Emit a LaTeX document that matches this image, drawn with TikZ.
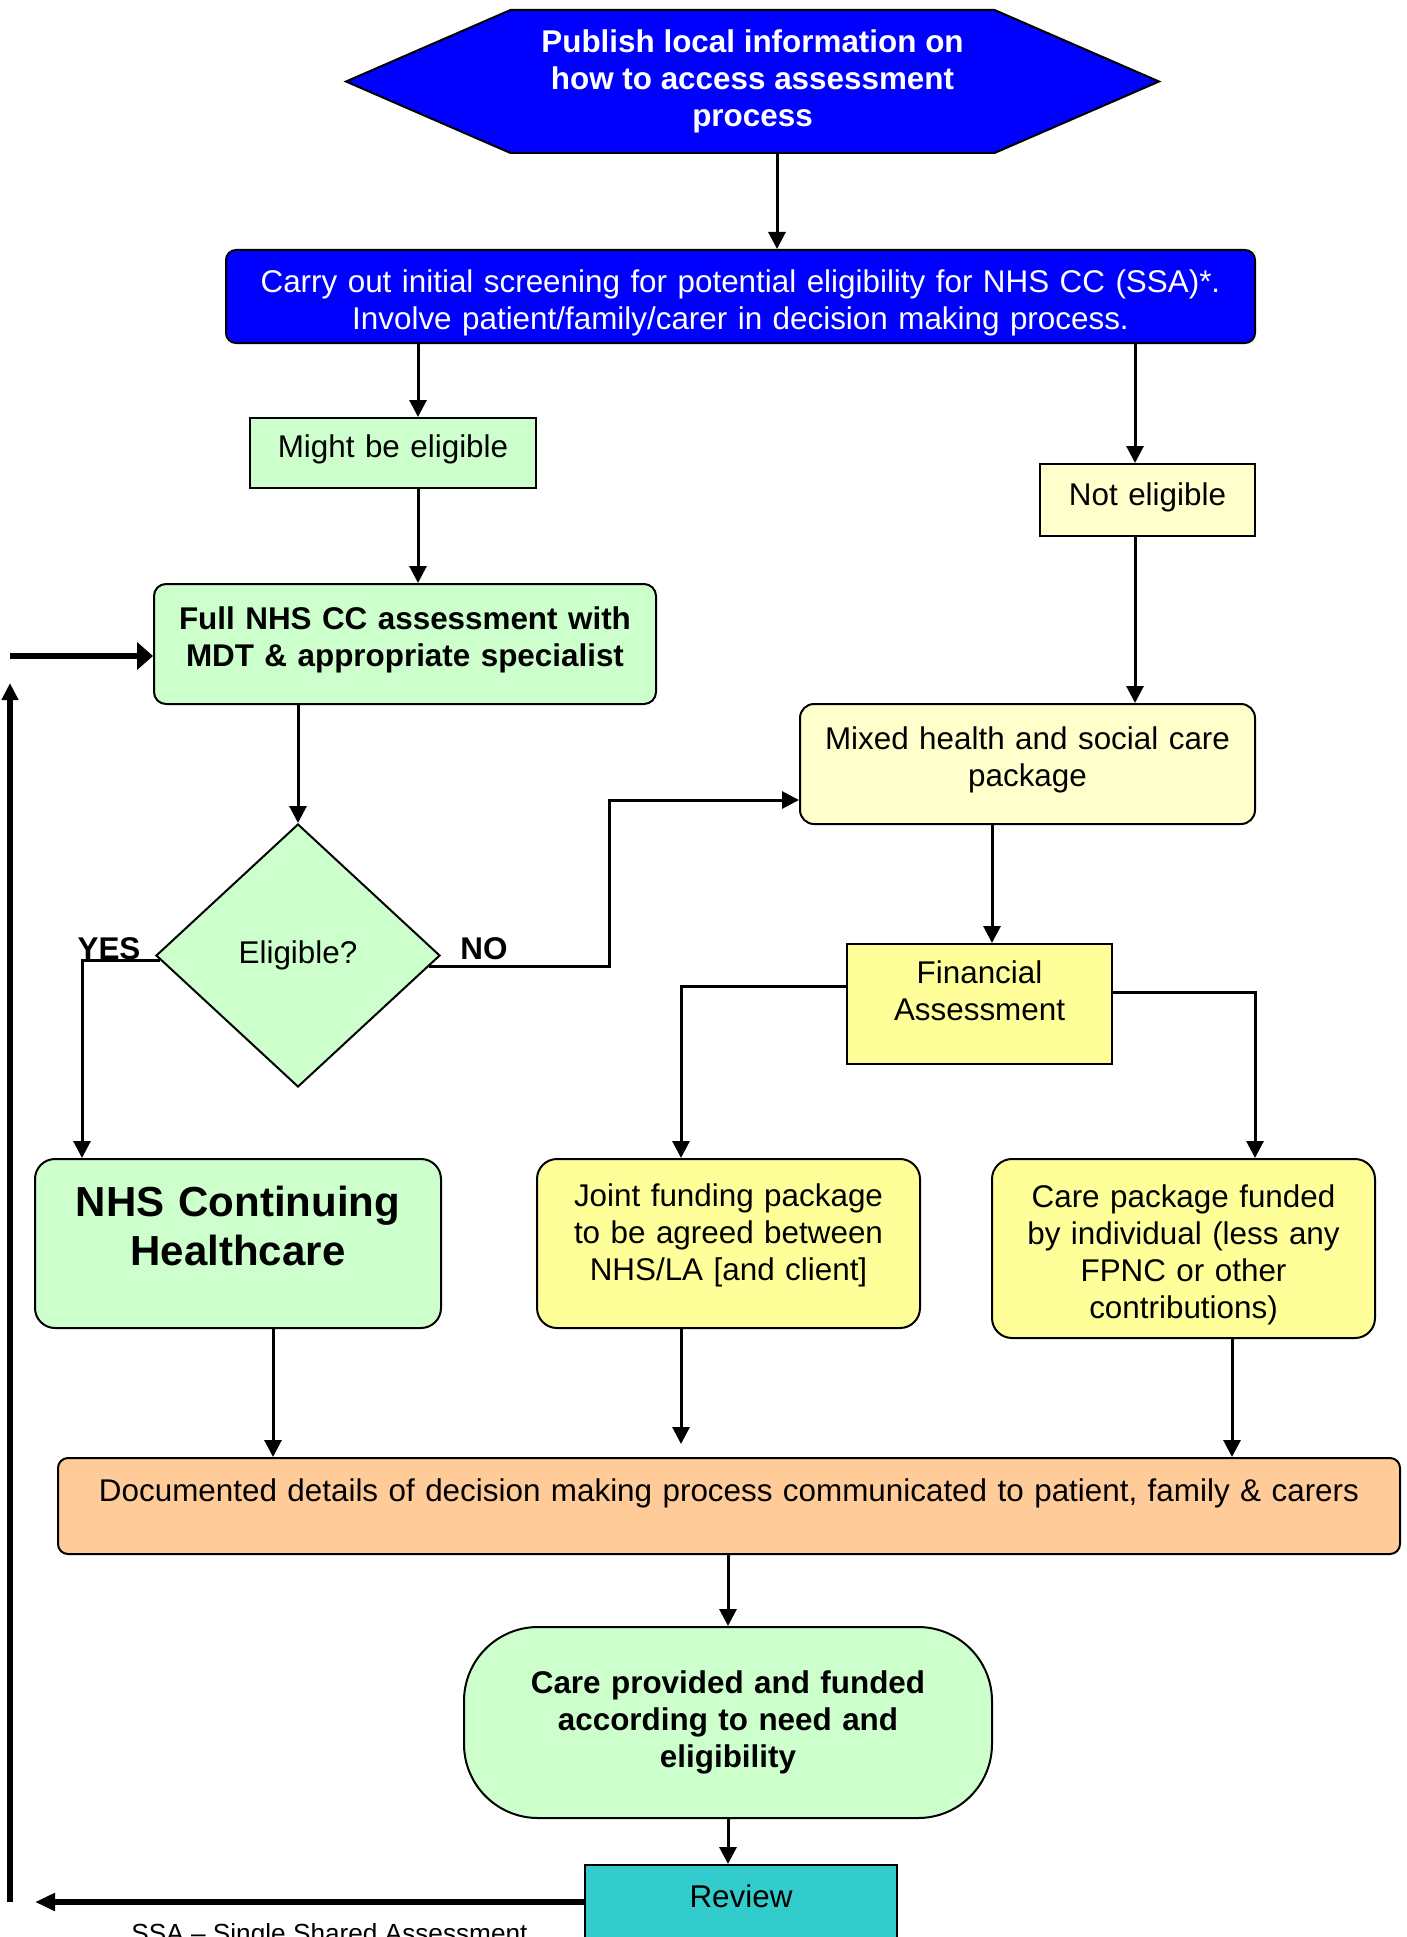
\documentclass[tikz,border=0pt]{standalone}
\usepackage{fontspec}
\setmainfont{Liberation Sans}
\usetikzlibrary{shapes.geometric,shapes.symbols,arrows.meta}

\definecolor{boxblue}{HTML}{0000FF}
\definecolor{palegreen}{HTML}{CCFFCC}
\definecolor{paleyellow}{HTML}{FFFFCC}
\definecolor{lightyellow}{HTML}{FFFF99}
\definecolor{peach}{HTML}{FFCC99}
\definecolor{reviewteal}{HTML}{33CCCC}

\newcommand\txt{\fontsize{15.7}{18.5}\selectfont}
\newcommand\bigtxt{\fontsize{21}{24.5}\selectfont}
\newcommand\smalltxt{\fontsize{13.1}{15.3}\selectfont}
% Leerraum unter der letzten bzw. ueber der ersten Zeile
\newcommand\padb[1]{\vrule width 0pt height 0pt depth \dimexpr #1+0.21em\relax}
\newcommand\padt[1]{\leavevmode\vrule width 0pt height \dimexpr #1+0.73em\relax depth 0pt}

\begin{document}
\begin{tikzpicture}[x=0.5pt, y=-0.5pt, >={Triangle[length=8.5pt,width=8.5pt]},
    box/.style={draw, line width=1pt, align=center, inner xsep=2pt, inner ysep=0pt, font=\txt},
    conn/.style={->, line width=1.5pt},
    backline/.style={line width=2.8pt}]

            % Rahmen (1 Einheit = 1 Pixel der Vorlage)
            \useasboundingbox (0,0) rectangle (1407,1937);

            % Kopf: Information veroeffentlichen
            \node[signal, signal to=west and east, signal pointer angle=47, draw, line width=1pt,
                fill=boxblue, text=white, font=\txt\bfseries, align=center,
                minimum width=406.5pt, minimum height=71.5pt, inner sep=0pt] (hex) at (752.5,81.5)
                {Publish local information on\\how to access assessment\\process};

            % Screening
            \node[box, fill=boxblue, text=white, rounded corners=5pt, minimum width=514.5pt,
                minimum height=46.5pt, text width=510pt] (screen) at (740.5,296.5)
                {\padt{6pt}Carry out initial screening for potential eligibility for NHS CC (SSA)*.\\Involve patient/family/carer in decision making process.};

            % Zwei Ergebnisse des Screenings
            \node[box, fill=palegreen, minimum width=143pt, minimum height=35pt, text width=139pt] (might) at (393,453)
                {Might be eligible\padb{3.7pt}};
            \node[box, fill=paleyellow, minimum width=107.5pt, minimum height=36pt, text width=103.5pt] (notel) at (1147.5,500)
                {Not eligible\padb{2.5pt}};

            % Volle Begutachtung
            \node[box, fill=palegreen, rounded corners=6pt, minimum width=251pt, minimum height=60pt,
                text width=247pt, font=\txt\bfseries] (full) at (405,644)
                {Full NHS CC assessment with\\MDT \& appropriate specialist\padb{3.7pt}};

            % Gemischtes Paket
            \node[box, fill=paleyellow, rounded corners=7pt, minimum width=227.5pt, minimum height=60pt,
                text width=223.5pt] (mixed) at (1027.5,764)
                {Mixed health and social care\\package\padb{4.3pt}};

            % Entscheidung
            \node[diamond, draw, line width=1pt, fill=palegreen, font=\txt, minimum width=142pt,
                minimum height=131.5pt, inner sep=0pt] (elig) at (298,955.5) {Eligible?};
            \node[font=\txt\bfseries] (yes) at (109,949) {YES};
            \node[font=\txt\bfseries] (no) at (484,949) {NO};

            % Finanzielle Pruefung
            \node[box, fill=lightyellow, minimum width=132.5pt, minimum height=60pt, text width=128.5pt] (fin) at (979.5,1004)
                {Financial\\Assessment\padb{10.5pt}};

            % Drei Ergebnisse
            \node[box, fill=palegreen, rounded corners=10pt, minimum width=203pt, minimum height=84.5pt,
                text width=199pt, font=\bigtxt\bfseries] (nhscc) at (238,1243.5)
                {NHS Continuing\\Healthcare\padb{13pt}};
            \node[box, fill=lightyellow, rounded corners=10pt, minimum width=191.5pt, minimum height=84.5pt,
                text width=187.5pt] (joint) at (728.5,1243.5)
                {Joint funding package\\to be agreed between\\NHS/LA [and client]\padb{8pt}};
            \node[box, fill=lightyellow, rounded corners=10pt, minimum width=191.5pt, minimum height=89.5pt,
                text width=187.5pt] (carepkg) at (1183.5,1248.5)
                {\padt{6.2pt}Care package funded\\by individual (less any\\FPNC or other\\contributions)};

            % Dokumentation, Versorgung, Review
            \node[box, fill=peach, rounded corners=5pt, minimum width=671pt, minimum height=48pt,
                text width=667pt] (doc) at (729,1506)
                {Documented details of decision making process communicated to patient, family \& carers\padb{12.4pt}};
            \node[box, fill=palegreen, rounded corners=37pt, minimum width=264pt, minimum height=95.5pt,
                text width=240pt, font=\txt\bfseries] (given) at (728,1722.5)
                {Care provided and funded\\according to need and\\eligibility};
            \node[box, fill=reviewteal, minimum width=156pt, minimum height=80pt, text width=152pt] (review) at (741,1945)
                {Review\padb{46pt}};

            % Fussnote (unten abgeschnitten)
            \node[font=\smalltxt, anchor=base west, inner sep=0pt] (ssa) at (131,1942) {SSA – Single Shared Assessment};

            % Hilfspunkte fuer die Verbindungen
            \coordinate (colHex) at (777,0);
            \coordinate (colMight) at (418,0);
            \coordinate (colNot) at (1135,0);
            \coordinate (colYes) at (82,0);
            \coordinate (noTurn) at (609,800);
            \coordinate (colMix) at (992,0);
            \coordinate (finL) at (681,986);
            \coordinate (finR) at (1255,992);
            \coordinate (colNhs) at (273,0);
            \coordinate (colCare) at (1232,0);
            \coordinate (backEnd) at (35,1902);
            \coordinate (upStart) at (10,1902);
            \coordinate (upEnd) at (10,683);
            \coordinate (inStart) at (10,656);

            % Verbindungen
            \draw[conn] (hex.south -| colHex) -- (screen.north -| colHex);
            \draw[conn] (screen.south -| colMight) -- (might.north -| colMight);
            \draw[conn] (might.south -| colMight) -- (full.north -| colMight);
            \draw[conn] (screen.south -| colNot) -- (notel.north -| colNot);
            \draw[conn] (notel.south -| colNot) -- (mixed.north -| colNot);
            \draw[conn] (full.south -| elig) -- (elig.north);
            \draw[conn] (elig.182) -| (nhscc.north -| colYes);
            \draw[conn] (elig.355) -| (noTurn) -- (mixed.west |- noTurn);
            \draw[conn] (mixed.south -| colMix) -- (fin.north -| colMix);
            \draw[conn] (fin.west |- finL) -| (joint.north -| finL);
            \draw[conn] (fin.east |- finR) -| (carepkg.north -| finR);
            \draw[conn] (nhscc.south -| colNhs) -- (doc.north -| colNhs);
            \draw[conn, shorten >=6.5pt] (joint.south -| finL) -- (doc.north -| finL);
            \draw[conn] (carepkg.south -| colCare) -- (doc.north -| colCare);
            \draw[conn] (doc.south -| given) -- (given.north);
            \draw[conn] (given.south) -- (review.north -| given);

            % Rueckfuehrung (dick)
            \draw[backline, -{Triangle[length=10pt,width=8.5pt]}] (review.west |- backEnd) -- (backEnd);
            \draw[backline, -{Triangle[length=8.5pt,width=8pt]}] (upStart) -- (upEnd);
            \draw[backline, -{Triangle[length=8pt,width=13.5pt]}] (inStart) -- (full.west |- inStart);

\end{tikzpicture}
\end{document}
